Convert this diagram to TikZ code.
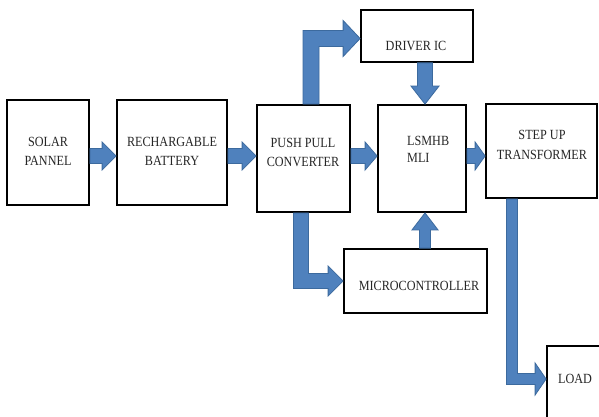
\documentclass[tikz,border=0pt]{standalone}
\usepackage{fontspec}
\setmainfont[FakeStretch=0.87]{Liberation Serif}
\usetikzlibrary{calc}
\definecolor{arrfill}{HTML}{4F81BD}
\definecolor{arrline}{HTML}{3C6A9E}
\tikzset{
  blk/.style={draw=black, line width=1.8pt, fill=white, inner sep=0pt},
  lbl/.style={font=\fontsize{14}{19}\selectfont, align=center, inner sep=0pt, text=black!85},
  barrow/.style={fill=arrfill, draw=arrline, line width=0.8pt, line join=miter},
}
\newcommand{\blockH}[5]{\filldraw[barrow] ($(#1)+(0,-#3)$) -- ($(#2)+(-#5,-#3)$) -- ($(#2)+(-#5,-#4)$) -- (#2) -- ($(#2)+(-#5,#4)$) -- ($(#2)+(-#5,#3)$) -- ($(#1)+(0,#3)$) -- cycle;}
\newcommand{\blockD}[5]{\filldraw[barrow] ($(#1)+(-#3,0)$) -- ($(#2)+(-#3,-#5)$) -- ($(#2)+(-#4,-#5)$) -- (#2) -- ($(#2)+(#4,-#5)$) -- ($(#2)+(#3,-#5)$) -- ($(#1)+(#3,0)$) -- cycle;}
\newcommand{\blockU}[5]{\filldraw[barrow] ($(#1)+(-#3,0)$) -- ($(#2)+(-#3,#5)$) -- ($(#2)+(-#4,#5)$) -- (#2) -- ($(#2)+(#4,#5)$) -- ($(#2)+(#3,#5)$) -- ($(#1)+(#3,0)$) -- cycle;}
\newcommand{\blockUR}[5]{\filldraw[barrow] ($(#1)+(-#3,0)$) -- ($(#1 |- #2)+(-#3,-#3)$) -- ($(#2)+(-#5,-#3)$) -- ($(#2)+(-#5,-#4)$) -- (#2) -- ($(#2)+(-#5,#4)$) -- ($(#2)+(-#5,#3)$) -- ($(#1 |- #2)+(#3,#3)$) -- ($(#1)+(#3,0)$) -- cycle;}
\newcommand{\blockDR}[5]{\filldraw[barrow] ($(#1)+(-#3,0)$) -- ($(#1 |- #2)+(-#3,#3)$) -- ($(#2)+(-#5,#3)$) -- ($(#2)+(-#5,#4)$) -- (#2) -- ($(#2)+(-#5,-#4)$) -- ($(#2)+(-#5,-#3)$) -- ($(#1 |- #2)+(#3,-#3)$) -- ($(#1)+(#3,0)$) -- cycle;}
\begin{document}
\begin{tikzpicture}[x=1pt,y=-1pt]
\useasboundingbox (0,0) rectangle (599,417);
\fill[white] (0,0) rectangle (599,417);
\clip (0,0) rectangle (599,417);
% boxes
\node[blk, minimum width=82pt, minimum height=105pt] (sol) at (48,152.5) {};
\node[blk, minimum width=110pt, minimum height=105pt] (bat) at (172,152.5) {};
\node[blk, minimum width=93pt, minimum height=107pt] (pp) at (303.5,158.5) {};
\node[blk, minimum width=112pt, minimum height=52pt] (drv) at (417,36) {};
\node[blk, minimum width=88pt, minimum height=107pt] (lsm) at (422,158.5) {};
\node[blk, minimum width=111pt, minimum height=94pt] (stp) at (541.5,151) {};
\node[blk, minimum width=143pt, minimum height=64pt] (mic) at (415.5,281) {};
\node[blk, minimum width=63pt, minimum height=84pt] (load) at (578.5,388) {};
% texts
\node[lbl] (tsol) at (48,151.5) {SOLAR\\PANNEL};
\node[lbl] (tbat) at (172,151.5) {RECHARGABLE\\BATTERY};
\node[lbl] (tpp) at (303,152) {PUSH PULL\\CONVERTER};
\node[lbl, font=\fontsize{14}{17}\selectfont, align=left, anchor=west] (tlsm) at (407,149.5) {LSMHB\\MLI};
\node[lbl] (tdrv) at (416,46) {DRIVER IC};
\node[lbl, font=\fontsize{14}{20}\selectfont] (tstp) at (542,145) {STEP UP\\TRANSFORMER};
\node[lbl] (tmic) at (419,286) {MICROCONTROLLER};
\node[lbl] (tload) at (575,379) {LOAD};
% connector end points
\coordinate (ya) at (0,156);
\coordinate (a1s) at (sol.east |- ya);
\coordinate (a1e) at (bat.west |- ya);
\coordinate (a2s) at (bat.east |- ya);
\coordinate (a2e) at (pp.west |- ya);
\coordinate (a3s) at (pp.east |- ya);
\coordinate (a3e) at (lsm.west |- ya);
\coordinate (a4s) at (lsm.east |- ya);
\coordinate (a4e) at (stp.west |- ya);
\coordinate (a5s) at ([xshift=8pt]drv.south);
\coordinate (a5e) at (a5s |- lsm.north);
\coordinate (a6s) at ([xshift=9.5pt]mic.north);
\coordinate (a6e) at (a6s |- lsm.south);
\coordinate (a7s) at ([xshift=7.5pt]pp.north);
\coordinate (a7e) at ([yshift=-2.5pt]drv.west);
\coordinate (a8s) at ([xshift=-2.5pt]pp.south);
\coordinate (a8e) at (mic.west);
\coordinate (a9s) at ([xshift=-29.5pt]stp.south);
\coordinate (a9e) at ([yshift=9pt]load.west);
% block arrows
\blockH{a1s}{a1e}{7.5}{14}{14}
\blockH{a2s}{a2e}{7.5}{14}{14}
\blockH{a3s}{a3e}{7.5}{14}{12}
\blockH{a4s}{a4e}{7.5}{14}{10}
\blockD{a5s}{a5e}{7.5}{14}{18}
\blockU{a6s}{a6e}{5.5}{13}{17}
\blockUR{a7s}{a7e}{8}{18}{17}
\blockDR{a8s}{a8e}{7.5}{15}{15}
\blockDR{a9s}{a9e}{5.5}{16}{11}
\end{tikzpicture}
\end{document}
